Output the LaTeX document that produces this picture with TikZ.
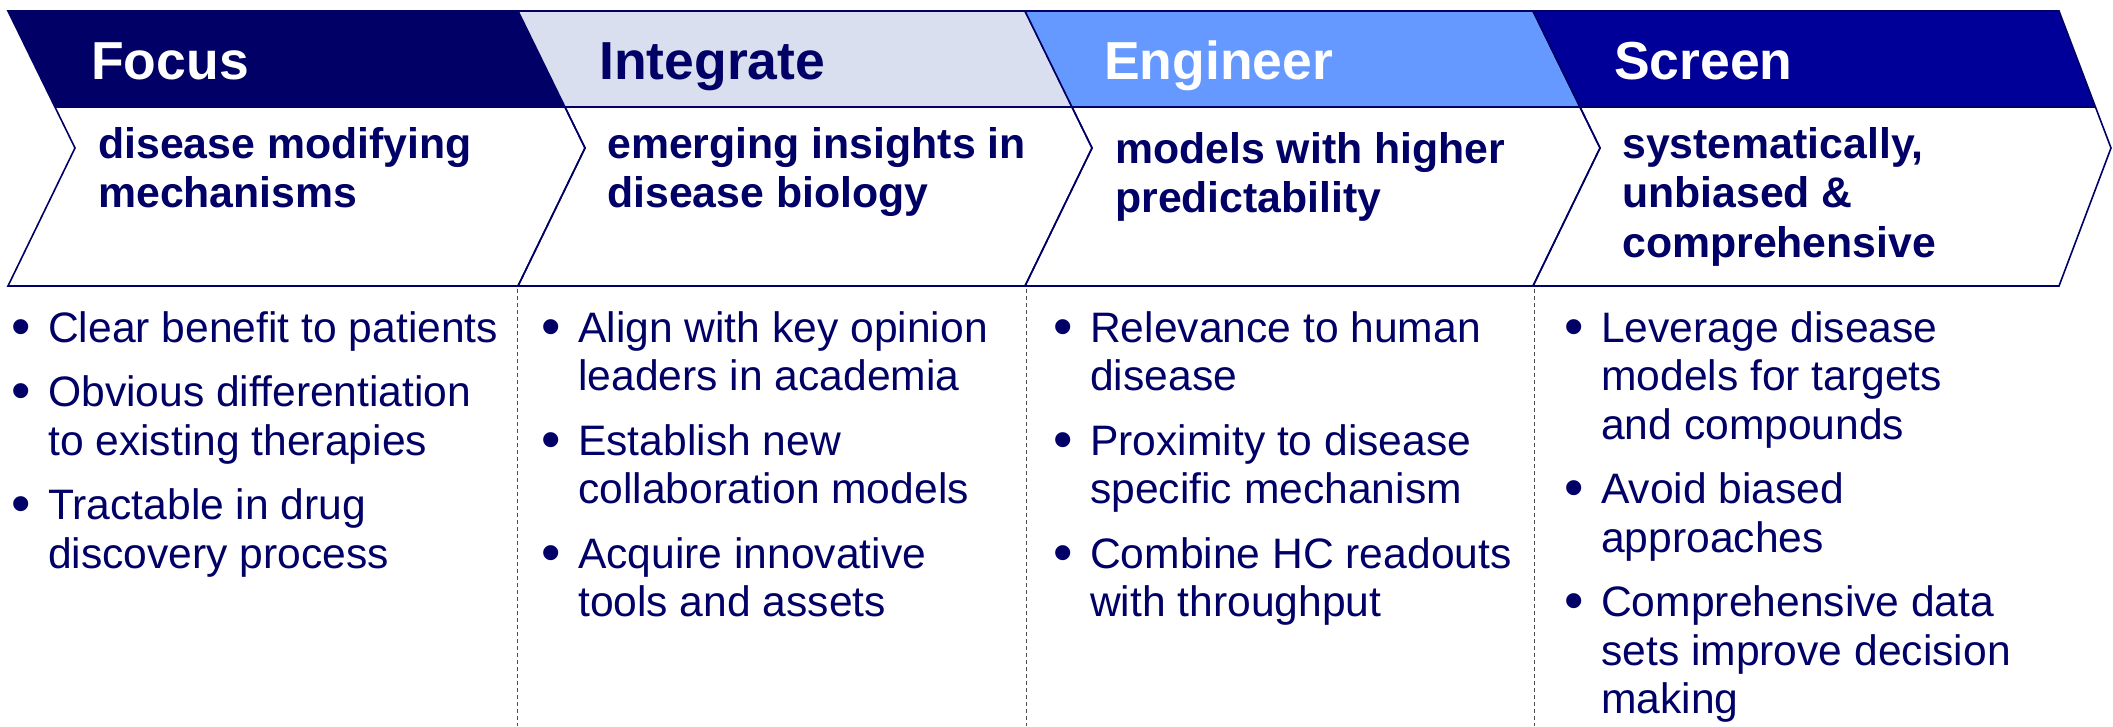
\documentclass[tikz,border=0pt]{standalone}
\usepackage{fontspec}
\setmainfont{Liberation Sans}
\usetikzlibrary{positioning}
\definecolor{navy}{RGB}{0,0,102}
\definecolor{paleblue}{RGB}{217,223,239}
\definecolor{midblue}{RGB}{102,153,255}
\definecolor{deepblue}{RGB}{0,0,153}
\tikzset{
  chevron/.style={draw=navy, line width=1.6pt, line join=miter},
  head/.style={anchor=base west, inner sep=0pt, font=\bfseries\fontsize{53.5}{60}\selectfont},
  goal/.style={anchor=base west, inner sep=0pt, text width=470pt, text=navy,
    execute at begin node={\bfseries\fontsize{42.8}{49.5}\selectfont\raggedright\spaceskip=0pt\xspaceskip=0pt}},
  list/.style={anchor=base west, inner sep=0pt, text width=520pt, text=navy,
    execute at begin node={\fontsize{42.6}{48.6}\selectfont\raggedright\spaceskip=0pt\xspaceskip=0pt\setlength{\parskip}{15.8pt}}},
  divider/.style={draw=black!70, line width=0.9pt, dash pattern=on 4pt off 3pt}
}
\newcommand{\itm}[1]{\hangindent=37pt\hangafter=1\makebox[37pt][l]{\raisebox{-3pt}{\scalebox{1.3}{\textbullet}}}#1\par}

\begin{document}
\begin{tikzpicture}[x=1pt, y=-1pt]
  \useasboundingbox (0,0) rectangle (2113,726);
  % chevrons
  \foreach \xa/\xb/\tip/\col in {8/518/67/navy, 518/1025/67/paleblue, 1025/1533/67/midblue, 1533/2059/52/deepblue} {
    \fill[\col] (\xa,11) -- (\xb,11) -- (\xb+0.7*\tip,107) -- (\xa+47,107) -- cycle;
    \draw[chevron] (\xa,11) -- (\xb,11) -- (\xb+\tip,148) -- (\xb,286) -- (\xa,286) -- (\xa+67,148) -- cycle;
    \draw[chevron] (\xa+47,107) -- (\xb+0.7*\tip,107);
  }
  % stage names
  \node[head, text=white] (focus) at (91,79) {Focus};
  \node[head, text=navy] (integrate) at (599,79) {Integrate};
  \node[head, text=white] (engineer) at (1104,79) {Engineer};
  \node[head, text=white] (screen) at (1614,79) {Screen};
  % goals
  \node[goal] (focusgoal) at (98,158) {disease modifying\newline mechanisms};
  \node[goal] (integrategoal) at (607,158) {emerging insights in\newline disease biology};
  \node[goal] (engineergoal) at (1115,163) {models with higher\newline predictability};
  \node[goal] (screengoal) at (1622,158) {systematically,\newline unbiased \&\newline comprehensive};
  % dividers
  \foreach \x [count=\i] in {517,1026,1534} {
    \coordinate (top\i) at (\x,289);
    \coordinate (bot\i) at (\x,726);
    \draw[divider] (top\i) -- (bot\i);
  }
  % bullet lists
  \node[list] (focuslist) at (11,342) {\itm{Clear benefit to patients}\itm{Obvious differentiation\newline to existing therapies}\itm{Tractable in drug\newline discovery process}};
  \node[list] (integratelist) at (541,342) {\itm{Align with key opinion\newline leaders in academia}\itm{Establish new\newline collaboration models}\itm{Acquire innovative\newline tools and assets}};
  \node[list] (engineerlist) at (1053,342) {\itm{Relevance to human\newline disease}\itm{Proximity to disease\newline specific mechanism}\itm{Combine HC readouts\newline with throughput}};
  \node[list] (screenlist) at (1564,342) {\itm{Leverage disease\newline models for targets\newline and compounds}\itm{Avoid biased\newline approaches}\itm{Comprehensive data\newline sets improve decision\newline making}};
\end{tikzpicture}
\end{document}
